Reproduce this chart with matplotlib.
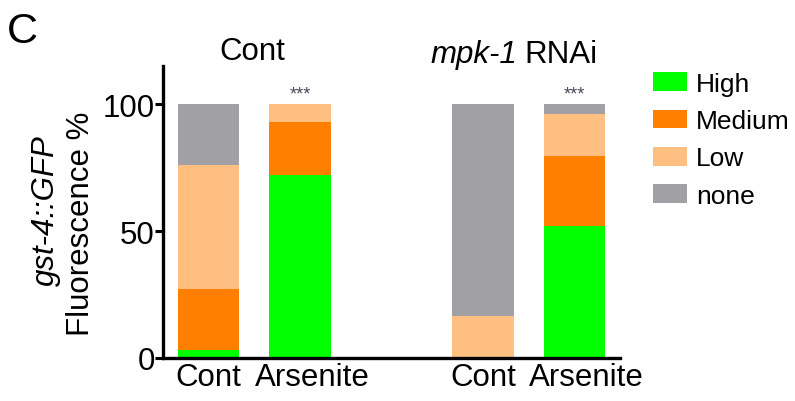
import matplotlib
matplotlib.use("Agg")
import matplotlib.pyplot as plt
from matplotlib.patches import Patch
import matplotlib.transforms as mtransforms
import numpy as np

plt.rcParams['font.family'] = ['Liberation Sans', 'DejaVu Sans']

categories = ["Cont", "Arsenite", "Cont", "Arsenite"]
groups = ["Cont", "mpk-1 RNAi"]
levels = ["High", "Medium", "Low", "none"]
high = [3, 72, 0, 52]
medium = [24, 21, 0, 27.5]
low = [49, 7, 16.5, 16.5]
none = [24, 0, 83.5, 4]
signif = ["", "***", "", "***"]
colors = ["#00FF00", "#FF8000", "#FFBF80", "#A1A0A5"]

positions = [0, 1, 3, 4]

fig = plt.figure(figsize=(7.95, 4.02), dpi=100)
ax = fig.add_axes([0.205, 0.107, 0.575, 0.726])

bottom = np.zeros(len(positions))
for vals, col, lab in zip([high, medium, low, none], colors, levels):
    ax.bar(positions, vals, width=0.67, bottom=bottom, color=col,
           edgecolor='none', label=lab)
    bottom += np.array(vals)

for p, s, tot in zip(positions, signif, bottom):
    if s:
        ax.text(p, tot + 0.8, s, ha='center', va='bottom', fontsize=13,
                color='#4a4a5a')

ax.set_xlim(-0.5, 4.5)
ax.set_ylim(0, 115)
ax.set_yticks([0, 50, 100])
ax.set_yticklabels(["0", "50", "100"], fontsize=22.5)
ax.set_xticks(positions)
ax.set_xticklabels(categories, fontsize=22.5)
ax.tick_params(axis='x', length=0, pad=3)
ax.tick_params(axis='y', length=6, width=2.2, pad=0)
for s in ['top', 'right']:
    ax.spines[s].set_visible(False)
for s in ['left', 'bottom']:
    ax.spines[s].set_linewidth(2.4)

# shift the "Arsenite" labels slightly right, as in the reference
for lbl in ax.get_xticklabels():
    if lbl.get_text() == "Arsenite":
        lbl.set_transform(lbl.get_transform() +
                          mtransforms.ScaledTranslation(12/100, 0, fig.dpi_scale_trans))

# group titles
fig.text(252/795, 1 - 52/402, groups[0], ha='center', va='center', fontsize=22.5)
fig.text(517/795, 1 - 55/402, "mpk-1", ha='right', va='center', fontsize=22.5,
         style='italic')
fig.text(524/795, 1 - 55/402, "RNAi", ha='left', va='center', fontsize=22.5)

# y label
fig.text(46/795, 1 - 211/402, "gst-4::GFP", rotation=90, ha='center',
         va='center', fontsize=22.5, style='italic')
fig.text(81/795, 1 - 224/402, "Fluorescence %", rotation=90, ha='center',
         va='center', fontsize=22.5)

# panel letter
fig.text(7/795, 1 - 32/402, "C", ha='left', va='center', fontsize=31)

handles = [Patch(facecolor=c, edgecolor='none', label=l) for c, l in zip(colors, levels)]
fig.legend(handles=handles, loc='upper left', bbox_to_anchor=(653/795, 1 - 73/402),
           frameon=False, fontsize=19, handlelength=1.3, handleheight=0.72,
           labelspacing=0.5, handletextpad=0.34, borderaxespad=0, borderpad=0)

fig.savefig("out.png", dpi=100)
